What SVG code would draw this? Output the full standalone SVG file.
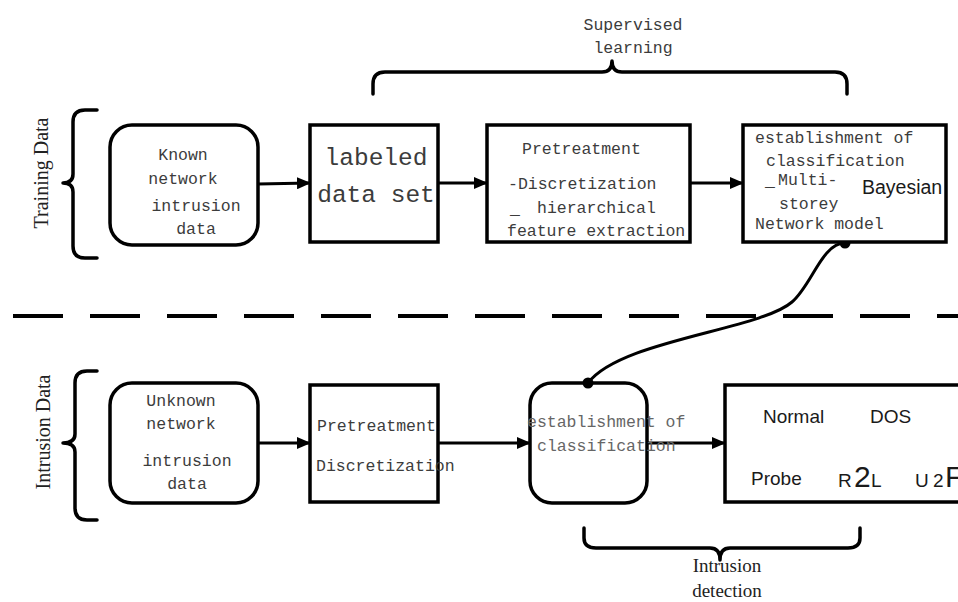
<svg xmlns="http://www.w3.org/2000/svg" width="958" height="602" viewBox="0 0 958 602">
<style>
.box{fill:#fff;stroke:#000;stroke-width:3.5}
.br{fill:none;stroke:#000;stroke-width:3.5;stroke-linecap:round;stroke-linejoin:round}
.ln{fill:none;stroke:#000;stroke-width:3}
.m{font-family:"Liberation Mono","DejaVu Sans Mono",monospace;font-size:16.5px;fill:#3c3c3c}
.mm{text-anchor:middle}
.s{font-family:"Liberation Sans",Arial,sans-serif;font-size:19px;fill:#1a1a1a}
.t{font-family:"Liberation Serif","Times New Roman",serif;fill:#222}
</style>
<defs>
<marker id="ah" markerUnits="userSpaceOnUse" markerWidth="14" markerHeight="12" refX="13" refY="6" orient="auto">
<path d="M0,0 L14,6 L0,12 z" fill="#000"/>
</marker>
</defs>
<rect width="958" height="602" fill="#fff"/>

<g id="dash">
<line x1="13" y1="316" x2="970" y2="316" stroke="#000" stroke-width="4" stroke-dasharray="50 27"/>
</g>

<g id="brace-training">
<path class="br" d="M97,110 H85 Q73,110 73,122 V174 Q73,183 63,183 Q73,183 73,192 V246 Q73,258 85,258 H97"/>
<text class="t" font-size="20" text-anchor="middle" transform="translate(48,173) rotate(-90)">Training Data</text>
</g>
<g id="brace-intrusion">
<path class="br" d="M97,371 H87 Q75,371 75,383 V434 Q75,443 63,443 Q75,443 75,452 V508 Q75,520 87,520 H97"/>
<text class="t" font-size="20" text-anchor="middle" transform="translate(50,432) rotate(-90)">Intrusion Data</text>
</g>
<g id="brace-supervised">
<path class="br" d="M373,94 V84 Q373,72 385,72 H602 Q612,72 612,61 Q612,72 622,72 H835 Q847,72 847,84 V94"/>
<text class="m mm" x="633" y="30">Supervised</text>
<text class="m mm" x="633" y="53">learning</text>
</g>
<g id="brace-detection">
<path class="br" d="M584,528 V538 Q584,548 596,548 H710 Q720,548 720,560 Q720,548 730,548 H848 Q860,548 860,538 V528"/>
<text class="t mm" font-size="19" x="727" y="572">Intrusion</text>
<text class="t mm" font-size="19" x="727" y="597">detection</text>
</g>

<g id="connectors">
<line class="ln" x1="258" y1="184" x2="310" y2="183" marker-end="url(#ah)"/>
<line class="ln" x1="438" y1="183" x2="487" y2="183" marker-end="url(#ah)"/>
<line class="ln" x1="690" y1="183" x2="743" y2="183" marker-end="url(#ah)"/>
<line class="ln" x1="258" y1="443" x2="310" y2="443" marker-end="url(#ah)"/>
<line class="ln" x1="438" y1="443" x2="530" y2="443" marker-end="url(#ah)"/>
<line class="ln" x1="647" y1="443" x2="725" y2="443" marker-end="url(#ah)"/>
<path class="ln" d="M845,243 C822,243 812,285 792,302 C760,330 620,340 588,383"/>
<circle cx="845" cy="243" r="5.5" fill="#000"/>
<circle cx="588" cy="383" r="5.5" fill="#000"/>
</g>

<g id="n1">
<rect class="box" x="110" y="125" width="148" height="120" rx="22"/>
<text class="m mm" x="183" y="160">Known</text>
<text class="m mm" x="183" y="184">network</text>
<text class="m mm" x="196" y="211">intrusion</text>
<text class="m mm" x="196" y="234">data</text>
</g>
<g id="n2">
<rect class="box" x="310" y="125" width="128" height="117"/>
<text class="m mm" style="font-size:24.5px" x="376" y="165">labeled</text>
<text class="m mm" style="font-size:24.5px" x="376" y="202">data set</text>
</g>
<g id="n3">
<rect class="box" x="487" y="125" width="203" height="117"/>
<text class="m" x="522" y="154">Pretreatment</text>
<text class="m" x="508" y="189">-Discretization</text>
<text class="m" x="537" y="213">hierarchical</text>
<text class="m" x="510" y="214">_</text>
<text class="m" x="507" y="236">feature extraction</text>
</g>
<g id="n4">
<rect class="box" x="743" y="125" width="203" height="117"/>
<text class="m" x="755" y="143">establishment of</text>
<text class="m" x="766" y="166">classification</text>
<text class="m" x="765" y="186">_</text>
<text class="m" x="778" y="185">Multi-</text>
<text class="s" style="font-size:19.5px" x="862" y="194">Bayesian</text>
<text class="m" x="779" y="209">storey</text>
<text class="m" x="755" y="229">Network model</text>
</g>
<g id="n5">
<rect class="box" x="110" y="383" width="148" height="120" rx="22"/>
<text class="m mm" x="181" y="406">Unknown</text>
<text class="m mm" x="181" y="429">network</text>
<text class="m mm" x="187" y="466">intrusion</text>
<text class="m mm" x="187" y="489">data</text>
</g>
<g id="n6">
<rect class="box" x="310" y="385" width="128" height="117"/>
<text class="m" x="317" y="431">Pretreatment</text>
<text class="m" x="316" y="471">Discretization</text>
</g>
<g id="n7">
<rect class="box" x="530" y="383" width="117" height="120" rx="22" style="fill:none"/>
<text class="m" x="527" y="427" style="fill:#666">establishment of</text>
<text class="m" x="537" y="451" style="fill:#666">classification</text>
</g>
<g id="n8">
<rect class="box" x="725" y="385" width="250" height="117"/>
<text class="s" x="763" y="423">Normal</text>
<text class="s" x="870" y="423">DOS</text>
<text class="s" x="751" y="485">Probe</text>
<text class="s" y="487"><tspan x="838">R</tspan><tspan x="854" font-size="30">2</tspan><tspan x="871">L</tspan></text>
<text class="s" y="487"><tspan x="915">U</tspan><tspan x="933">2</tspan><tspan x="945" font-size="30">F</tspan></text>
</g>
</svg>
